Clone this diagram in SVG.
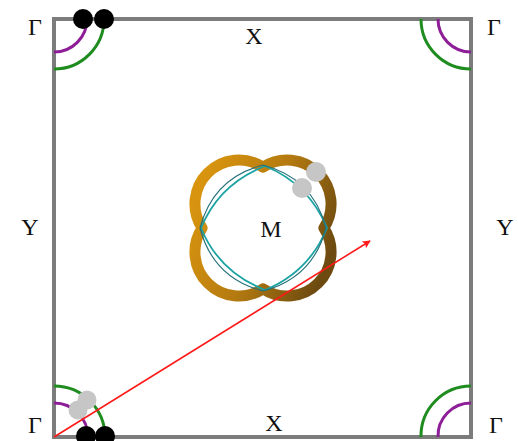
<svg xmlns="http://www.w3.org/2000/svg" width="518" height="441" viewBox="0 0 518 441">
<style>
.lbl{font-family:"Liberation Serif","Times New Roman",serif;font-size:24px;fill:#111;text-anchor:middle}
.pur{fill:none;stroke:#8e1e98;stroke-width:3}
.grn{fill:none;stroke:#1f8c1f;stroke-width:3}
.blk{fill:#000}
.gry{fill:#c6c6c6}
</style>
<defs>
<linearGradient id="gold" x1="0" y1="0.3" x2="1" y2="0.7">
<stop offset="0" stop-color="#d8940f"/>
<stop offset="0.5" stop-color="#b47a10"/>
<stop offset="1" stop-color="#6c4a10"/>
</linearGradient>
<marker id="ah" viewBox="0 0 10 10" refX="9" refY="5" markerWidth="11" markerHeight="8" markerUnits="userSpaceOnUse" orient="auto">
<path d="M0,0 L10,5 L0,10 L2,5 Z" fill="#ff1a1a"/>
</marker>
</defs>
<g id="frame">
<rect x="54" y="19" width="417" height="418" fill="none" stroke="#7c7c7c" stroke-width="4"/>
</g>
<g id="corner-arcs">
<path class="grn" d="M54,69 A50,50 0 0 0 104,19"/>
<path class="pur" d="M54,52 A33,33 0 0 0 87,19"/>
<path class="grn" d="M421,19 A50,50 0 0 0 471,69"/>
<path class="pur" d="M438,19 A33,33 0 0 0 471,52"/>
<path class="grn" d="M54,386 A51,51 0 0 1 105,437"/>
<path class="pur" d="M54,403 A34,34 0 0 1 88,437"/>
<path class="grn" d="M471,386 A50,50 0 0 0 421,437"/>
<path class="pur" d="M471,403 A33,33 0 0 0 438,437"/>
</g>
<g id="fermi-M">
<path d="M263,167.1 A44,44 0 0 0 202.1,228 A44,44 0 0 0 263,288.9 A44,44 0 0 0 323.9,228 A44,44 0 0 0 263,167.1 Z" fill="none" stroke="url(#gold)" stroke-width="11" stroke-linejoin="round"/>
<path d="M265,166 Q219,184 201,228 Q219,272 265,290 Q309,272 327,228 Q309,184 265,166 Z" fill="none" stroke="#1ba3a3" stroke-width="1.8"/>
<path d="M263,165 Q213,178 200,228 Q213,278 263,291 Q313,278 326,228 Q313,178 263,165 Z" fill="none" stroke="#236f78" stroke-width="1.1"/>
</g>
<g id="dots">
<circle class="gry" cx="316" cy="172" r="10"/>
<circle class="gry" cx="302" cy="188" r="10"/>
<circle class="gry" cx="78" cy="410" r="9.5"/>
<circle class="gry" cx="87" cy="400" r="9.5"/>
<circle class="blk" cx="83" cy="19" r="10"/>
<circle class="blk" cx="104" cy="19" r="10"/>
<circle class="blk" cx="86" cy="436" r="10"/>
<circle class="blk" cx="105" cy="436" r="10"/>
</g>
<g id="connectors">
<line x1="54" y1="437" x2="370" y2="241" stroke="#ff1a1a" stroke-width="1.6" marker-end="url(#ah)"/>
</g>
<g id="labels">
<text class="lbl" x="35" y="35">Γ</text>
<text class="lbl" x="494" y="35">Γ</text>
<text class="lbl" x="35" y="433">Γ</text>
<text class="lbl" x="496" y="433">Γ</text>
<text class="lbl" x="254" y="44">X</text>
<text class="lbl" x="274" y="431">X</text>
<text class="lbl" x="30" y="235">Y</text>
<text class="lbl" x="505" y="235">Y</text>
<text class="lbl" x="271" y="237">M</text>
</g>
</svg>
